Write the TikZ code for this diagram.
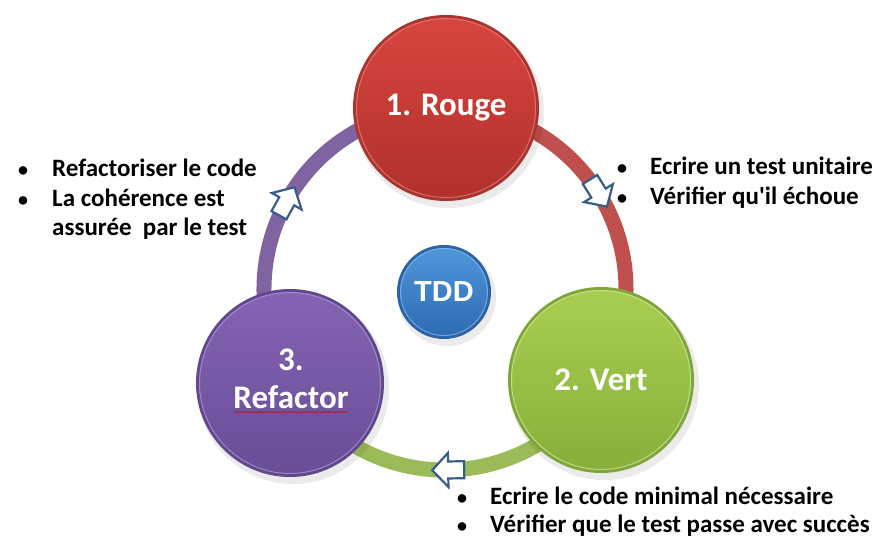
\documentclass[tikz,border=0pt]{standalone}
\usepackage{fontspec}
\setmainfont{Carlito}[Ligatures=TeXOff]
\newfontfamily\arialfont{Liberation Sans}
\usetikzlibrary{calc,decorations.pathmorphing}
\definecolor{ringred}{HTML}{C0504D}
\definecolor{ringgreen}{HTML}{9BBB59}
\definecolor{ringpurple}{HTML}{8064A2}
\definecolor{arrowblue}{HTML}{385D8A}
\definecolor{redtop}{HTML}{D8453F}
\definecolor{redbot}{HTML}{B0302C}
\definecolor{rededge}{HTML}{A93430}
\definecolor{redhl}{HTML}{E88580}
\definecolor{greentop}{HTML}{A8CE50}
\definecolor{greenbot}{HTML}{88AF3B}
\definecolor{greenedge}{HTML}{80A53A}
\definecolor{greenhl}{HTML}{D2EAA0}
\definecolor{purpletop}{HTML}{8464B2}
\definecolor{purplebot}{HTML}{684D97}
\definecolor{purpleedge}{HTML}{60488C}
\definecolor{purplehl}{HTML}{B29BDA}
\definecolor{bluetop}{HTML}{5096DA}
\definecolor{bluebot}{HTML}{2E6BB2}
\definecolor{blueedge}{HTML}{2D63A3}
\definecolor{bluehl}{HTML}{8CBDF0}
\newcommand\glossball[6]{%
  \fill[black, opacity=0.08] ($(#1)+(3,5)$) circle[radius=#2+2];
  \fill[#5] (#1) circle[radius=#2];
  \shade[top color=#3, bottom color=#4] (#1) circle[radius=#2-3];
  \draw[#6, line width=1pt, opacity=0.7] (#1) circle[radius=#2-3.5];
}
\newcommand\blockarr[3]{%
  \begin{scope}[shift={#1}, rotate=#2]
    \draw[blockarrow] (-16,-8.5) -- (0,-8.5) -- (0,-17) -- (16,0) -- (0,17) -- (0,8.5) -- (-16,8.5) -- cycle;
    \coordinate (#3) at (0,0);
  \end{scope}
}
\tikzset{
  txt/.style={anchor=base west, font=\bfseries\fontsize{25}{30}\selectfont, inner sep=0pt},
  bul/.style={anchor=base, font=\bfseries\fontsize{20}{24}\selectfont, inner sep=0pt},
  lbl/.style={text=white, font=\bfseries\fontsize{33}{38}\selectfont, align=center, inner sep=0pt},
  blockarrow/.style={draw=arrowblue, line width=2.2pt, fill=white, line join=miter},
  ringline/.style={line width=15pt},
}
\begin{document}
\begin{tikzpicture}[x=1pt, y=-1pt]
\useasboundingbox[fill=white] (0,0) rectangle (890,556);
% centers
\coordinate (ringc) at (445,289);
\coordinate (cred) at (446,108);
\coordinate (cgreen) at (601,380);
\coordinate (cpurple) at (290,383);
\coordinate (cblue) at (444,292);
% ring arcs
\draw[ringline, ringred] ($(ringc)+(-90:181)$) arc[start angle=-90, end angle=31, radius=181];
\draw[ringline, ringgreen] ($(ringc)+(30:181)$) arc[start angle=30, end angle=150, radius=181];
\draw[ringline, ringpurple] ($(ringc)+(149:181)$) arc[start angle=149, end angle=271, radius=181];
% arrows
\blockarr{($(ringc)+(-32:181)$)}{-58}{arr1}
\blockarr{($(ringc)+(89:181)$)}{-179}{arr2}
\blockarr{($(ringc)+(209:181)$)}{61}{arr3}
% balls
\glossball{cred}{93}{redtop}{redbot}{rededge}{redhl}
\glossball{cgreen}{93}{greentop}{greenbot}{greenedge}{greenhl}
\glossball{cpurple}{94}{purpletop}{purplebot}{purpleedge}{purplehl}
\glossball{cblue}{47}{bluetop}{bluebot}{blueedge}{bluehl}
% labels
\node[lbl] (rouge) at (cred) {1. Rouge};
\node[lbl] (vert) at (cgreen) {2. Vert};
\node[lbl] (refactor) at ($(cpurple)+(1,-4)$) {3.\\Refactor};
\node[text=white, font=\arialfont\bfseries\fontsize{29}{32}\selectfont, inner sep=0pt] (tdd) at (cblue) {TDD};
\draw[red!85!black, line width=0.5pt, decorate, decoration={snake, amplitude=0.7pt, segment length=3pt}]
  ($(refactor.south west)+(1,3)$) -- ($(refactor.south east)+(-1,3)$);
% text top right
\node[bul] (b1) at (622,175) {•};
\node[txt] (t1) at (650,175) {Ecrire un test unitaire};
\node[bul] (b2) at (622,204) {•};
\node[txt] (t2) at (650,204) {Vérifier qu'il échoue};
% text bottom
\node[bul] (b3) at (462,504) {•};
\node[txt] (t3) at (490,504) {Ecrire le code minimal nécessaire};
\node[bul] (b4) at (462,532) {•};
\node[txt] (t4) at (490,532) {Vérifier que le test passe avec succès};
% text top left
\node[bul] (b5) at (23,176) {•};
\node[txt] (t5) at (52,176) {Refactoriser le code};
\node[bul] (b6) at (23,206) {•};
\node[txt] (t6) at (52,206) {La cohérence est};
\node[txt] (t7) at (52,235) {assurée\ \ par le test};
\end{tikzpicture}
\end{document}
